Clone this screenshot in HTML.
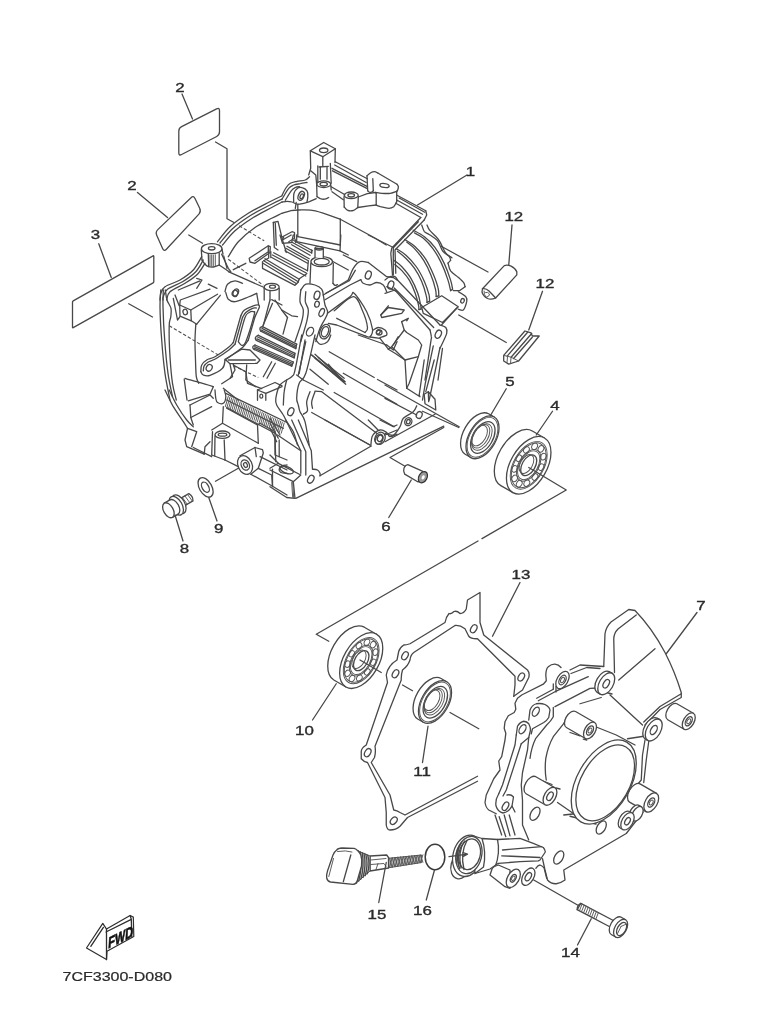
<!DOCTYPE html>
<html><head><meta charset="utf-8"><title>Crankcase parts diagram 7CF3300-D080</title>
<style>
html,body{margin:0;padding:0;background:#fff;}
body{width:762px;height:1024px;overflow:hidden;font-family:"Liberation Sans",sans-serif;}
svg{display:block;position:absolute;left:0;top:0;filter:blur(0.4px);}
.l{fill:none;stroke:#484848;stroke-width:1.3;stroke-linecap:round;stroke-linejoin:round;}
.t{fill:none;stroke:#555;stroke-width:0.95;stroke-linecap:round;stroke-linejoin:round;}
.w{fill:#fff;stroke:#484848;stroke-width:1.3;stroke-linecap:round;stroke-linejoin:round;}
.d{fill:none;stroke:#505050;stroke-width:1.1;stroke-dasharray:3.4 2;}
.n{font-family:"Liberation Sans",sans-serif;font-size:13.2px;fill:#2a2a2a;text-anchor:middle;stroke:#2a2a2a;stroke-width:0.35;}
</style></head><body>
<svg width="762" height="1024" viewBox="0 0 762 1024">
<!-- 10_stickers.svg -->
<path class="l" d="M178.8 131.2Q178.8 128.0 181.6 126.6L216.6 108.9Q219.5 107.5 219.5 110.7L219.5 131.8Q219.5 135.0 216.7 136.5L181.6 154.5Q178.8 156.0 178.8 152.8Z"/>
<path class="l" d="M191.0 197.7Q193.5 195.3 195.0 198.5L199.7 208.3Q201.2 211.5 198.9 214.1L166.4 249.2Q164.0 251.8 162.6 248.5L156.7 235.2Q155.3 232.0 157.8 229.6Z"/>
<path class="l" d="M72.5 302.1Q72.5 301.2 73.2 300.9L153.1 255.9Q153.8 255.5 153.8 256.3L153.8 281.7Q153.8 282.5 153.1 282.9L73.2 327.6Q72.5 328.0 72.5 327.2Z"/>

<!-- 20_round.svg -->
<path class="w" d="M494.20 417.04L488.57 413.79A23.40 13.50 -60 0 0 465.17 454.31L470.80 457.56"/>
<ellipse class="w" cx="482.50" cy="437.30" rx="23.40" ry="13.50" transform="rotate(-60 482.50 437.30)" />
<ellipse class="t" cx="482.50" cy="437.30" rx="21.76" ry="12.56" transform="rotate(-60 482.50 437.30)" />
<ellipse class="l" cx="482.80" cy="437.50" rx="17.32" ry="9.99" transform="rotate(-60 482.80 437.50)" />
<ellipse class="t" cx="481.90" cy="437.00" rx="14.51" ry="8.37" transform="rotate(-60 481.90 437.00)" />
<ellipse class="t" cx="480.70" cy="436.30" rx="12.87" ry="7.43" transform="rotate(-60 480.70 436.30)" />
<ellipse class="t" cx="479.50" cy="435.60" rx="11.23" ry="6.48" transform="rotate(-60 479.50 435.60)" />
<path class="w" d="M544.45 438.02L532.33 431.02A31.50 18.18 -60 0 0 500.83 485.58L512.95 492.58"/>
<ellipse class="w" cx="528.70" cy="465.30" rx="31.50" ry="18.18" transform="rotate(-60 528.70 465.30)" />
<ellipse class="t" cx="528.70" cy="465.30" rx="26.14" ry="15.09" transform="rotate(-60 528.70 465.30)" />
<ellipse class="t" cx="528.70" cy="465.30" rx="24.57" ry="14.18" transform="rotate(-60 528.70 465.30)" />
<ellipse class="t" cx="540.95" cy="448.85" rx="3.46" ry="2.68" transform="rotate(-60 540.95 448.85)"/>
<ellipse class="t" cx="543.39" cy="456.57" rx="3.46" ry="2.68" transform="rotate(-60 543.39 456.57)"/>
<ellipse class="t" cx="541.17" cy="467.07" rx="3.46" ry="2.68" transform="rotate(-60 541.17 467.07)"/>
<ellipse class="t" cx="534.99" cy="477.00" rx="3.46" ry="2.68" transform="rotate(-60 534.99 477.00)"/>
<ellipse class="t" cx="526.81" cy="483.22" rx="3.46" ry="2.68" transform="rotate(-60 526.81 483.22)"/>
<ellipse class="t" cx="519.23" cy="483.75" rx="3.46" ry="2.68" transform="rotate(-60 519.23 483.75)"/>
<ellipse class="t" cx="514.66" cy="478.42" rx="3.46" ry="2.68" transform="rotate(-60 514.66 478.42)"/>
<ellipse class="t" cx="514.54" cy="468.93" rx="3.46" ry="2.68" transform="rotate(-60 514.54 468.93)"/>
<ellipse class="t" cx="518.92" cy="458.28" rx="3.46" ry="2.68" transform="rotate(-60 518.92 458.28)"/>
<ellipse class="t" cx="526.41" cy="449.86" rx="3.46" ry="2.68" transform="rotate(-60 526.41 449.86)"/>
<ellipse class="t" cx="534.62" cy="446.35" rx="3.46" ry="2.68" transform="rotate(-60 534.62 446.35)"/>
<ellipse class="t" cx="528.70" cy="465.30" rx="17.33" ry="10.00" transform="rotate(-60 528.70 465.30)" />
<ellipse class="t" cx="528.70" cy="465.30" rx="15.75" ry="9.09" transform="rotate(-60 528.70 465.30)" />
<ellipse class="l" cx="528.70" cy="465.30" rx="11.34" ry="6.54" transform="rotate(-60 528.70 465.30)" />
<ellipse class="t" cx="526.50" cy="464.00" rx="10.40" ry="6.00" transform="rotate(-60 526.50 464.00)" />
<path class="w" d="M376.45 634.19L364.33 627.19A30.50 17.60 -60 0 0 333.83 680.01L345.95 687.01"/>
<ellipse class="w" cx="361.20" cy="660.60" rx="30.50" ry="17.60" transform="rotate(-60 361.20 660.60)" />
<ellipse class="t" cx="361.20" cy="660.60" rx="25.31" ry="14.61" transform="rotate(-60 361.20 660.60)" />
<ellipse class="t" cx="361.20" cy="660.60" rx="23.79" ry="13.73" transform="rotate(-60 361.20 660.60)" />
<ellipse class="t" cx="373.06" cy="644.67" rx="3.35" ry="2.59" transform="rotate(-60 373.06 644.67)"/>
<ellipse class="t" cx="375.43" cy="652.15" rx="3.35" ry="2.59" transform="rotate(-60 375.43 652.15)"/>
<ellipse class="t" cx="373.28" cy="662.31" rx="3.35" ry="2.59" transform="rotate(-60 373.28 662.31)"/>
<ellipse class="t" cx="367.29" cy="671.93" rx="3.35" ry="2.59" transform="rotate(-60 367.29 671.93)"/>
<ellipse class="t" cx="359.37" cy="677.95" rx="3.35" ry="2.59" transform="rotate(-60 359.37 677.95)"/>
<ellipse class="t" cx="352.03" cy="678.47" rx="3.35" ry="2.59" transform="rotate(-60 352.03 678.47)"/>
<ellipse class="t" cx="347.60" cy="673.31" rx="3.35" ry="2.59" transform="rotate(-60 347.60 673.31)"/>
<ellipse class="t" cx="347.49" cy="664.11" rx="3.35" ry="2.59" transform="rotate(-60 347.49 664.11)"/>
<ellipse class="t" cx="351.73" cy="653.81" rx="3.35" ry="2.59" transform="rotate(-60 351.73 653.81)"/>
<ellipse class="t" cx="358.98" cy="645.65" rx="3.35" ry="2.59" transform="rotate(-60 358.98 645.65)"/>
<ellipse class="t" cx="366.93" cy="642.25" rx="3.35" ry="2.59" transform="rotate(-60 366.93 642.25)"/>
<ellipse class="t" cx="361.20" cy="660.60" rx="16.78" ry="9.68" transform="rotate(-60 361.20 660.60)" />
<ellipse class="t" cx="361.20" cy="660.60" rx="15.25" ry="8.80" transform="rotate(-60 361.20 660.60)" />
<ellipse class="l" cx="361.20" cy="660.60" rx="10.98" ry="6.34" transform="rotate(-60 361.20 660.60)" />
<ellipse class="t" cx="359.00" cy="659.30" rx="10.07" ry="5.81" transform="rotate(-60 359.00 659.30)" />
<path class="w" d="M446.70 681.74L441.07 678.49A23.40 13.50 -60 0 0 417.67 719.01L423.30 722.26"/>
<ellipse class="w" cx="435.00" cy="702.00" rx="23.40" ry="13.50" transform="rotate(-60 435.00 702.00)" />
<ellipse class="t" cx="435.00" cy="702.00" rx="21.76" ry="12.56" transform="rotate(-60 435.00 702.00)" />
<ellipse class="l" cx="435.30" cy="702.20" rx="17.32" ry="9.99" transform="rotate(-60 435.30 702.20)" />
<ellipse class="t" cx="434.40" cy="701.70" rx="14.51" ry="8.37" transform="rotate(-60 434.40 701.70)" />
<ellipse class="t" cx="433.20" cy="701.00" rx="12.87" ry="7.43" transform="rotate(-60 433.20 701.00)" />
<ellipse class="t" cx="432.00" cy="700.30" rx="11.23" ry="6.48" transform="rotate(-60 432.00 700.30)" />
<ellipse class="l" cx="205.60" cy="487.40" rx="10.70" ry="6.17" transform="rotate(60 205.60 487.40)" />
<ellipse class="l" cx="205.40" cy="487.20" rx="5.60" ry="3.23" transform="rotate(60 205.40 487.20)" />
<ellipse cx="435" cy="857" rx="9.8" ry="12.8" fill="none" stroke="#3a3a3a" stroke-width="1.5"/>

<!-- 30_gasket.svg -->
<path class="l" d="M513.75 696.25L522.5 690L528.75 677.5Q530 673 527.5 670L483.75 635L480 622.5V592.5L467.5 600L466.25 609Q464 613.5 460 613.5Q457 610.5 454 611.5Q451 614.5 449 613.5Q446 617 445 622.5L410 643.75Q406 645 403.75 645Q399.5 648 398.75 651.25L397 660Q392 663 390 666.25Q386.5 671 386.25 675L387.5 682.5L366.25 745Q361.5 748 361.25 751.25V758.75Q364 762 367.5 762.5L385 797.5L386.25 812.5V825Q387 830 390 830Q396 830 400 826.25L407.5 817.5L477.5 781.25"/>
<path class="l" d="M513.75 696.25L515 685V676.25L477.5 638.75Q471 639 468.75 636.25L465 628.75Q460 625 455 625.5L413.75 652.5Q410.5 655 410 660Q408 666 402.5 670Q401 675 401.25 680L375 746.25Q376 752 374.5 757.5L371.25 762.5L390 795L393.75 810Q397 810.5 400 812.5L405 815L477.5 776.25"/>
<ellipse class="l" cx="405" cy="655.75" rx="2.8" ry="4.4" transform="rotate(30 405 655.75)"/>
<ellipse class="l" cx="395.5" cy="673.75" rx="2.8" ry="4.4" transform="rotate(30 395.5 673.75)"/>
<ellipse class="l" cx="367.7" cy="752.7" rx="2.8" ry="4.4" transform="rotate(30 367.7 752.7)"/>
<ellipse class="l" cx="393.75" cy="820.7" rx="2.8" ry="4.2" transform="rotate(40 393.75 820.7)"/>
<ellipse class="l" cx="473.75" cy="628.75" rx="2.8" ry="4.4" transform="rotate(30 473.75 628.75)"/>
<ellipse class="l" cx="521.25" cy="677" rx="2.8" ry="4.4" transform="rotate(30 521.25 677)"/>

<!-- 40_cover.svg -->
<!-- cover 7: left flange outer -->
<path class="l" d="M561 667.5Q558.5 664.5 555 664.2Q551.5 664 548.3 666.7Q546 668.5 545.8 675L546.3 680.8L543.3 684.2L521.7 695L517.5 698.3L515 703.3L515.8 709.2L514.2 712.5L508.3 715.8L505 721.7L504.2 728.3L505.8 733.3L505 740L501.7 756.7L498.75 761L500 770L493.75 778.75L486.25 795L485 802.5Q486 808 488.75 810L496.25 813.75"/>
<!-- rib from top boss to box -->
<path class="l" d="M570 670L580 665L603.75 666.5"/>
<path class="l" d="M571 673.5L586.7 667.5L600 668.5"/>
<path class="l" d="M536.7 698.3L553.3 689.2"/>
<path class="l" d="M538.3 700.8L555 691.7L588.3 676.7"/>
<path class="l" d="M555 706.7L590 688.3L598 688"/>
<path class="l" d="M553.3 689.2V684M556 692V686.5"/>
<!-- box -->
<path class="l" d="M603.75 666.25L605 633.75Q606 627 611 622L628.75 609.5L635 610.5Q652 628 665 652.5Q675 672 681.25 692.5V697.5L660 709.5L645 725"/>
<path class="l" d="M614.5 672.5L613.75 638.75Q614 633 618 629L636.25 615"/>
<path class="l" d="M681.25 693.75L660 706.5L643.75 722"/>
<path class="l" d="M610 695L642.5 725"/>
<path class="l" d="M618.75 680L655 648.75"/>
<path class="l" d="M597 690L612 694"/>
<!-- flange lobes -->
<path class="l" d="M528.75 720L530 710Q532 705 536.25 703.75Q541 703 545 704.5Q549.5 707 550 710L548.75 717.5Q547 720.5 543.75 722.5L532.5 728.75L531.25 733.75"/>
<path class="l" d="M516.25 735L517.5 726.25Q520 722 523.75 721.25Q527 721.5 528.75 723.75Q530.5 727 530.5 730L528.75 737.5L521.25 743.75"/>
<path class="l" d="M516.25 735L515 745L502.5 785L498.75 793.75"/>
<path class="l" d="M521.25 743.75L506.25 790L503 796"/>
<path class="l" d="M528.75 737.5L527.5 750L522.5 772.5L521.25 785L522.5 800V825L528.75 840"/>
<!-- lower flange lobe around hole 505.5,806 -->
<path class="l" d="M498.75 793.75Q495 800 496 806Q498 812 503 813Q509 812 512 806L513.5 797Q511 794 507 795"/>
<path class="l" d="M512 806L515 812"/>
<!-- housing arcs -->
<path class="l" d="M553.3 707.5L553.3 716.7Q551 721 546.7 725L535.8 738.3Q531.5 747 530 758.3"/>
<path class="l" d="M566.7 716.7Q566 721 563.3 724.2L553.3 736.7Q548 746 545.8 758.3Q544.5 770 546.25 780"/>
<!-- housing top / right -->
<path class="l" d="M597.5 727.5L616.25 735L635 745"/>
<path class="l" d="M627.5 738.75L643.75 736.25"/>
<path class="l" d="M580 703.75L601.25 697.5"/>
<path class="l" d="M645 740L642.5 755L641.25 780L635 787.5"/>
<path class="l" d="M648.75 741.25L646.25 760L643.75 782.5"/>
<!-- housing bottom -->
<path class="l" d="M557.5 802.5L585 821.5L596 824"/>
<path class="l" d="M570 816.25L595 822.5"/>
<path class="l" d="M563.75 815L575 813.75"/>
<!-- plate bottom -->
<path class="l" d="M542.5 858.75L545 870L547.5 880Q551 884 556.25 883.75Q561 883 565 880L563.75 870L626.25 833.5L643 812"/>
<path class="l" d="M570 732.5L580 735.8M583.3 739.2L586.7 740M543 781L552 784.5M556 788L560 789"/>

<!-- 45_cover_bosses.svg -->
<ellipse class="w" cx="562.50" cy="680.00" rx="9.50" ry="5.48" transform="rotate(-60 562.50 680.00)" />
<ellipse class="l" cx="562.50" cy="680.00" rx="5.20" ry="3.00" transform="rotate(-60 562.50 680.00)" />
<ellipse class="t" cx="562.50" cy="680.00" rx="2.86" ry="1.65" transform="rotate(-60 562.50 680.00)" />
<path class="w" d="M612.25 673.36L609.22 671.61A12.00 6.92 -60 0 0 597.22 692.39L600.25 694.14"/>
<ellipse class="w" cx="606.25" cy="683.75" rx="12.00" ry="6.92" transform="rotate(-60 606.25 683.75)" />
<ellipse class="l" cx="606.25" cy="683.75" rx="4.60" ry="2.65" transform="rotate(-60 606.25 683.75)" />
<path class="w" d="M659.75 719.61L657.15 718.11A12.00 6.92 -60 0 0 645.15 738.89L647.75 740.39"/>
<ellipse class="w" cx="653.75" cy="730.00" rx="12.00" ry="6.92" transform="rotate(-60 653.75 730.00)" />
<ellipse class="l" cx="653.75" cy="730.00" rx="5.00" ry="2.88" transform="rotate(-60 653.75 730.00)" />
<path class="w" d="M693.35 713.28L676.90 703.78A9.20 5.31 -60 0 0 667.70 719.72L684.15 729.22"/>
<ellipse class="w" cx="688.75" cy="721.25" rx="9.20" ry="5.31" transform="rotate(-60 688.75 721.25)" />
<ellipse class="l" cx="688.75" cy="721.25" rx="5.00" ry="2.88" transform="rotate(-60 688.75 721.25)" />
<ellipse class="t" cx="688.75" cy="721.25" rx="2.75" ry="1.59" transform="rotate(-60 688.75 721.25)" />
<path class="w" d="M594.60 722.53L575.55 711.53A9.20 5.31 -60 0 0 566.35 727.47L585.40 738.47"/>
<ellipse class="w" cx="590.00" cy="730.50" rx="9.20" ry="5.31" transform="rotate(-60 590.00 730.50)" />
<ellipse class="l" cx="590.00" cy="730.50" rx="5.00" ry="2.88" transform="rotate(-60 590.00 730.50)" />
<ellipse class="t" cx="590.00" cy="730.50" rx="2.75" ry="1.59" transform="rotate(-60 590.00 730.50)" />
<path class="w" d="M656.50 793.41L640.05 783.91A10.50 6.06 -60 0 0 629.55 802.09L646.00 811.59"/>
<ellipse class="w" cx="651.25" cy="802.50" rx="10.50" ry="6.06" transform="rotate(-60 651.25 802.50)" />
<ellipse class="l" cx="651.25" cy="802.50" rx="5.00" ry="2.88" transform="rotate(-60 651.25 802.50)" />
<ellipse class="t" cx="651.25" cy="802.50" rx="2.75" ry="1.59" transform="rotate(-60 651.25 802.50)" />
<path class="w" d="M641.50 806.82L638.90 805.32A8.00 4.62 -60 0 0 630.90 819.18L633.50 820.68"/>
<ellipse class="w" cx="637.50" cy="813.75" rx="8.00" ry="4.62" transform="rotate(-60 637.50 813.75)" />
<path class="w" d="M632.25 813.02L629.65 811.52A9.50 5.48 -60 0 0 620.15 827.98L622.75 829.48"/>
<ellipse class="w" cx="627.50" cy="821.25" rx="9.50" ry="5.48" transform="rotate(-60 627.50 821.25)" />
<ellipse class="l" cx="627.50" cy="821.25" rx="4.00" ry="2.31" transform="rotate(-60 627.50 821.25)" />
<path class="w" d="M554.90 787.76L535.85 776.76A9.80 5.65 -60 0 0 526.05 793.74L545.10 804.74"/>
<ellipse class="w" cx="550.00" cy="796.25" rx="9.80" ry="5.65" transform="rotate(-60 550.00 796.25)" />
<ellipse class="l" cx="550.00" cy="796.25" rx="4.60" ry="2.65" transform="rotate(-60 550.00 796.25)" />
<ellipse class="l" cx="535.80" cy="711.70" rx="5.00" ry="2.88" transform="rotate(-60 535.80 711.70)" />
<ellipse class="l" cx="522.50" cy="729.20" rx="5.00" ry="2.88" transform="rotate(-60 522.50 729.20)" />
<ellipse class="l" cx="505.50" cy="806.25" rx="4.60" ry="2.65" transform="rotate(-60 505.50 806.25)" />
<ellipse class="l" cx="535.00" cy="813.75" rx="7.20" ry="4.15" transform="rotate(-60 535.00 813.75)" />
<ellipse class="l" cx="601.25" cy="827.50" rx="7.20" ry="4.15" transform="rotate(-60 601.25 827.50)" />
<ellipse class="l" cx="558.75" cy="857.50" rx="7.20" ry="4.15" transform="rotate(-60 558.75 857.50)" />
<ellipse class="w" cx="603.75" cy="782.00" rx="46.00" ry="26.54" transform="rotate(-60 603.75 782.00)" />
<ellipse class="l" cx="605.20" cy="782.90" rx="41.50" ry="23.95" transform="rotate(-60 605.20 782.90)" />

<!-- 47_cover_tube.svg -->
<!-- legs from lower lobe to tube -->
<path class="l" d="M495 815L501.7 835M499.2 816.7L505.8 836.7M504.2 815L510 835.8M509.2 815L515 835"/>
<!-- tube body -->
<path class="w" d="M482 838.5L497.5 839.5L520 838.3L533.3 843.3L543.3 847.5Q546 851 545 852.5L540 860L538.3 860.8L520 861.7L498.3 863.3L490 869L475 873.5Z"/>
<path class="l" d="M502.5 850L541.7 846.7M501.7 855.8L540 857.5"/>
<path class="l" d="M497.5 839.5Q500.5 853 495 867.5"/>
<!-- boss G body -->
<path class="w" d="M510 870L498.3 865Q492 867 491.7 870L490 875L505 886.7L510 888.3Z"/>
<!-- opening -->
<ellipse class="w" cx="460.5" cy="866" rx="9.5" ry="13" transform="rotate(15 460.5 866)"/>
<ellipse class="w" cx="467.5" cy="855.8" rx="14.5" ry="21" transform="rotate(14 467.5 855.8)"/>
<path class="w" d="M472 835.5L482 838.5Q486.5 852 483.5 867L475 873.5Z" />
<ellipse class="w" cx="469" cy="855" rx="12.6" ry="19" transform="rotate(14 469 855)"/>
<ellipse class="l" cx="469.6" cy="854.3" rx="10.6" ry="15.6" transform="rotate(14 469.6 854.3)"/>
<path class="l" d="M462 842Q455 852 458.5 866M464.5 841Q457.5 852 461 868M467 840.5Q460 853 464 869.5M460 845Q454 853 456.5 863M459 847Q456.5 856 459.5 868.5"/>
<path class="l" d="M449 856.7L467.5 854.2M463 852.7L467.5 854.2L463.3 856.3"/>
<!-- between bosses / right -->
<path class="l" d="M535.8 868.3Q538 865 540 865Q543 866 544.2 868.3L546.7 878.3"/>

<!-- 48_cover_bossGH.svg -->
<ellipse class="w" cx="528.30" cy="876.70" rx="9.50" ry="5.48" transform="rotate(-60 528.30 876.70)" />
<ellipse class="l" cx="528.30" cy="876.70" rx="4.50" ry="2.60" transform="rotate(-60 528.30 876.70)" />
<ellipse class="w" cx="513.30" cy="878.30" rx="10.00" ry="5.77" transform="rotate(-60 513.30 878.30)" />
<ellipse class="l" cx="513.30" cy="878.30" rx="4.20" ry="2.42" transform="rotate(-60 513.30 878.30)" />
<ellipse class="t" cx="513.30" cy="878.30" rx="2.40" ry="1.38" transform="rotate(-60 513.30 878.30)" />

<!-- 50_bolt14.svg -->
<path class="w" d="M616.2 922.0L580.8 903.4L577.2 909.6L612.6 928.3"/>
<path class="l" d="M580.8 903.4Q576.9 905.4 577.2 909.6"/>
<path class="t" d="M582.1 904.1L579.4 910.8"/>
<path class="t" d="M584.2 905.2L581.4 911.9"/>
<path class="t" d="M586.2 906.2L583.5 912.9"/>
<path class="t" d="M588.2 907.3L585.5 914.0"/>
<path class="t" d="M590.3 908.4L587.6 915.1"/>
<path class="t" d="M592.3 909.4L589.6 916.1"/>
<path class="t" d="M594.3 910.5L591.6 917.2"/>
<path class="t" d="M596.4 911.6L593.7 918.3"/>
<path class="t" d="M598.4 912.7L595.7 919.4"/>
<path class="w" d="M625.60 919.74L621.26 917.24A10.00 5.77 -60 0 0 611.26 934.56L615.60 937.06"/>
<ellipse class="w" cx="620.60" cy="928.40" rx="10.00" ry="5.77" transform="rotate(-60 620.60 928.40)" />
<ellipse class="l" cx="621.60" cy="929.00" rx="7.20" ry="4.15" transform="rotate(-60 621.60 929.00)" />
<path class="t" d="M617.6 933.4L621.1 926.4M621.1 926.4L625.6 924.4"/>

<!-- 52_dipstick.svg -->
<path d="M388.3 858.3L421.7 855L421.7 862.5L388.3 867.8Z" fill="#b5b5b5" stroke="#444" stroke-width="0.9"/>
<path class="t" d="M389.5 858.1L392.1 867.2M392.1 857.9L389.5 867.5"/>
<path class="t" d="M392.3 857.8L394.9 866.8M394.9 857.6L392.3 867.1"/>
<path class="t" d="M395.1 857.5L397.7 866.3M397.7 857.3L395.1 866.6"/>
<path class="t" d="M397.9 857.2L400.5 865.9M400.5 857.0L397.9 866.2"/>
<path class="t" d="M400.7 857.0L403.3 865.4M403.3 856.8L400.7 865.7"/>
<path class="t" d="M403.5 856.7L406.1 865.0M406.1 856.5L403.5 865.3"/>
<path class="t" d="M406.3 856.4L408.9 864.6M408.9 856.2L406.3 864.9"/>
<path class="t" d="M409.1 856.1L411.7 864.1M411.7 855.9L409.1 864.4"/>
<path class="t" d="M411.9 855.9L414.5 863.7M414.5 855.7L411.9 864.0"/>
<path class="t" d="M414.7 855.6L417.3 863.2M417.3 855.4L414.7 863.5"/>
<path class="t" d="M417.5 855.3L420.1 862.8M420.1 855.1L417.5 863.1"/>
<path class="t" d="M420.3 855.0L422.9 862.3M422.9 854.8L420.3 862.6"/>
<path class="w" d="M370 856L386.7 855L388.5 857.5L388.5 868L370 871Z"/>
<path class="t" d="M371 860L386 858.5M371 864.5L384 863.5L386 866.5M378 863.5L376 869.5"/>
<path d="M357 850.5L370 856L370 871L355 884Z" fill="#ddd" stroke="#444" stroke-width="0.9"/>
<path class="l" d="M358.5 851.0Q360.5 867.0 356.5 883.0"/>
<path class="l" d="M360.3 851.8Q362.5 866.5 358.7 881.2"/>
<path class="l" d="M362.2 852.6Q364.5 866.0 360.8 879.3"/>
<path class="l" d="M364.0 853.4Q366.5 865.5 363.0 877.5"/>
<path class="l" d="M365.8 854.2Q368.5 864.9 365.2 875.7"/>
<path class="l" d="M367.7 855.0Q370.5 864.4 367.3 873.8"/>
<path class="w" d="M336.7 850Q338 848.2 342 848L354.2 848.3Q358 849.5 360.8 855Q362.5 860 361.5 866L357.5 880Q356.5 884 353 884.4L330.5 882Q327.5 881.5 326.7 878Q326.3 875 327.5 871L333 855Q334.5 851.5 336.7 850Z"/>
<path class="l" d="M350.8 855L343.3 881.7"/>
<path class="t" d="M333.5 858.5L328.8 876.5M337.5 851.5Q346 850 352 852"/>

<!-- 54_bolt8.svg -->
<path class="w" d="M175.4 501.4L188.8 493.6Q193.1 496.0 193.0 500.9L179.6 508.6"/>
<path class="t" d="M179.7 498.9L184.6 505.7"/>
<path class="t" d="M182.3 497.4L187.2 504.2"/>
<path class="t" d="M184.9 495.9L189.8 502.7"/>
<path class="t" d="M187.5 494.4L192.4 501.2"/>
<ellipse class="w" cx="178.80" cy="504.25" rx="10.30" ry="5.94" transform="rotate(60 178.80 504.25)"/>
<ellipse class="w" cx="176.20" cy="505.75" rx="10.30" ry="5.94" transform="rotate(60 176.20 505.75)"/>
<ellipse class="w" cx="174.04" cy="507.00" rx="8.20" ry="4.73" transform="rotate(60 174.04 507.00)"/>
<path class="w" d="M169.9 499.9L164.3 503.1L172.5 517.4L178.1 514.1Z" style="stroke:none"/>
<path class="l" d="M169.9 499.9L164.3 503.1M172.5 517.4L178.1 514.1"/>
<ellipse class="w" cx="168.41" cy="510.25" rx="8.20" ry="4.73" transform="rotate(60 168.41 510.25)"/>

<!-- 56_pins.svg -->
<!-- pin 12a -->
<path class="w" d="M482.5 288.7L504.3 265.6Q507.5 264.6 511.1 266.2Q515.5 268.5 516.8 271.8L516.8 274.9L495.6 298Q491 300 487.5 298.5Q483 296 482 292Z"/>
<path class="l" d="M482.5 288.7Q486 288 489 291Q492 294 495.6 298"/>
<path class="t" d="M485.5 292.5Q488 291.5 489.5 294Q489.5 296.5 487 297M484 291Q483.5 295 486.5 297.5"/>
<!-- pin 12b -->
<path class="w" d="M503.7 355.4L524.9 331L531.1 332.9L532.3 336L539.2 336L518.6 361L508.7 364.1L503.7 361Z"/>
<path class="l" d="M511.1 357.2L531.7 333.5M513.6 358.5L532.3 337.3M507.2 356.2L527.8 332"/>
<path class="t" d="M503.7 355.4L507.2 356.2L511.1 357.2L513.6 358.5L518.6 361M507.5 357L507 362.5M511 358L510.5 363.5"/>
<!-- pin 6 -->
<path class="w" d="M407.8 464.7L422.8 471.4L418.1 482L404.7 474.1Q403 471 404 468Q405.5 465 407.8 464.7Z"/>
<ellipse cx="422.9" cy="477.2" rx="4.1" ry="6" transform="rotate(-62 422.9 477.2) rotate(90 422.9 477.2)" fill="#999" stroke="#333" stroke-width="1.2"/>
<ellipse cx="423.2" cy="477.4" rx="1.4" ry="2.2" transform="rotate(28 423.2 477.4)" fill="#fff" stroke="none"/>

<!-- 58_fwd.svg -->
<path class="w" style="stroke:#2e2e2e;stroke-width:1.2" d="M86.5 948L102.8 923.4L106.5 929.1L130.1 915.5L133.3 917.1L133.8 936.5L107 951.2L106.5 959.6Z"/>
<path class="l" style="stroke:#2e2e2e" d="M106.5 929.1V959.6M106 932L131.3 919.3L131.8 937.2M131.3 919.3L130.1 915.5M90.8 946.3L103.4 927.4"/>
<text transform="matrix(0.68 -0.34 -0.05 1 108 948.8)" style="font-family:'Liberation Sans',sans-serif;font-size:16px;font-weight:700;fill:#111;stroke:#111;stroke-width:0.7">FWD</text>

<!-- 60_case_a.svg -->
<path class="l" d="M310.3 150.8L323.7 142.5L335.3 148.7L322.8 156.7Z"/>
<ellipse class="l" cx="323.7" cy="150.3" rx="4.2" ry="2.3" transform="rotate(0 323.7 150.3)"/>
<path class="l" d="M310.3 150.8L310.7 168.3L308.7 175.0"/>
<path class="l" d="M322.8 156.7L322.8 165.8"/>
<path class="l" d="M335.3 148.7L335.0 162.5"/>
<path class="l" d="M317.8 165.8L317.8 182.5"/>
<path class="l" d="M330.3 163.3L331.2 183.3"/>
<path class="l" d="M320.3 166.7L320.3 179.2"/>
<path class="l" d="M327.0 166.7L327.0 179.2"/>
<path class="l" d="M319.0 167.0L328.3 166.3"/>
<ellipse class="l" cx="323.7" cy="184.2" rx="7.0" ry="3.3" transform="rotate(0 323.7 184.2)"/>
<ellipse class="l" cx="323.7" cy="184.2" rx="3.7" ry="1.8" transform="rotate(0 323.7 184.2)"/>
<path class="l" d="M316.7 184.7L317.0 196.7"/>
<path class="l" d="M317.0 196.7C317.6 197.0 319.1 198.2 320.3 198.7C321.6 199.1 323.1 199.4 324.5 199.2C325.9 199.0 328.0 197.8 328.7 197.5"/>
<path class="l" d="M330.8 185.0L331.2 190.0"/>
<path class="l" d="M331.2 186.7L345.0 194.7"/>
<path class="l" d="M332.0 191.7L343.3 199.7"/>
<path class="l" d="M310.7 170.8L315.8 175.0L316.7 184.7"/>
<ellipse class="l" cx="351.2" cy="195.3" rx="7.0" ry="3.3" transform="rotate(0 351.2 195.3)"/>
<ellipse class="l" cx="351.2" cy="195.3" rx="3.3" ry="1.7" transform="rotate(0 351.2 195.3)"/>
<path class="l" d="M344.0 196.7L344.2 207.0"/>
<path class="l" d="M358.3 196.3L357.8 207.5"/>
<path class="l" d="M344.2 207.0C344.8 207.6 346.2 209.8 347.8 210.3C349.4 210.9 352.0 210.8 353.7 210.3C355.3 209.9 357.1 208.0 357.8 207.5"/>
<path class="l" d="M358.3 197.0L367.3 193.7L375.3 192.5"/>
<path class="l" d="M357.8 207.5L368.7 205.8L376.2 205.0"/>
<path class="l" d="M367.0 175.8C367.6 175.4 369.1 173.7 370.3 173.0C371.6 172.3 373.2 171.7 374.5 171.7C375.8 171.7 377.3 172.8 377.8 173.0"/>
<path class="l" d="M377.8 173.0L397.0 184.2"/>
<path class="l" d="M397.0 184.2C397.2 184.6 398.2 185.8 398.3 186.7C398.5 187.6 398.1 188.9 397.8 189.7C397.6 190.4 396.9 191.1 396.7 191.3"/>
<path class="l" d="M396.7 191.3C395.6 191.7 392.8 193.0 390.3 193.3C387.9 193.7 384.5 193.5 382.0 193.3C379.5 193.2 376.4 192.6 375.3 192.5"/>
<path class="l" d="M367.0 175.8L367.7 190.8"/>
<path class="l" d="M372.8 178.7L373.3 190.8"/>
<path class="l" d="M367.7 190.8C368.1 191.1 369.4 192.5 370.3 192.5C371.3 192.5 372.8 191.1 373.3 190.8C373.8 190.6 373.3 190.8 373.3 190.8"/>
<ellipse class="l" cx="384.5" cy="185.5" rx="4.7" ry="2.0" transform="rotate(8 384.5 185.5)"/>
<path class="l" d="M396.7 191.3L396.7 201.7"/>
<path class="l" d="M396.7 201.7C396.2 202.5 395.0 205.6 393.7 206.7C392.3 207.8 390.9 208.3 388.7 208.3C386.4 208.3 382.4 207.2 380.3 206.7C378.2 206.1 376.9 205.3 376.2 205.0"/>
<path class="l" d="M376.2 193.3L376.2 205.0"/>
<path class="l" d="M335.3 161.7L367.3 178.7"/>
<path class="l" d="M334.7 165.0L366.2 182.5"/>
<path class="l" d="M332.0 168.3L367.0 186.3"/>
<path class="l" d="M332.5 170.8L367.3 188.7"/>
<path class="l" d="M282.0 195.3C282.7 194.0 284.8 189.5 286.2 187.5C287.6 185.5 288.5 184.4 290.3 183.3C292.1 182.3 294.5 181.9 297.0 181.3C299.5 180.8 303.2 180.8 305.3 180.0C307.4 179.2 308.8 177.2 309.5 176.7"/>
<path class="l" d="M282.0 199.2C283.1 197.4 286.7 190.7 288.7 188.3C290.6 186.0 291.7 185.8 293.7 185.0C295.6 184.2 298.1 184.1 300.3 183.7C302.6 183.2 305.9 182.7 307.0 182.5"/>
<path class="l" d="M285.3 200.3C286.3 198.8 289.5 193.0 291.2 190.8C292.8 188.7 293.9 188.2 295.3 187.5C296.7 186.8 298.8 186.8 299.5 186.7"/>
<path class="l" d="M293.7 202.0C293.7 200.6 293.3 195.7 294.0 193.3C294.7 191.0 296.5 188.9 297.8 188.0C299.2 187.1 300.5 187.2 302.0 187.7C303.5 188.1 306.0 189.3 307.0 190.8C308.0 192.3 307.8 194.8 307.8 196.7C307.8 198.5 307.1 201.1 307.0 202.0"/>
<ellipse class="l" cx="301.2" cy="195.8" rx="2.8" ry="4.7" transform="rotate(25 301.2 195.8)"/>
<ellipse class="l" cx="301.7" cy="196.3" rx="1.5" ry="2.5" transform="rotate(25 301.7 196.3)"/>
<path class="l" d="M282.0 213.3C283.4 212.9 287.6 211.4 290.3 210.8C293.1 210.3 294.5 210.0 298.7 210.0C302.8 210.0 308.4 209.3 315.3 210.8C322.3 212.4 336.2 217.8 340.3 219.2"/>
<path class="l" d="M340.3 219.2L375.3 238.3L386.2 245.0"/>
<path class="l" d="M282.0 202.0C282.8 201.9 285.3 201.3 287.0 201.3C288.7 201.3 290.3 201.5 292.0 202.0C293.7 202.5 295.1 203.9 297.0 204.2C298.9 204.4 301.6 203.7 303.7 203.3C305.8 202.9 307.4 202.4 309.5 201.7C311.6 200.9 315.1 199.2 316.2 198.7"/>
<path class="l" d="M297.8 205.0L297.8 236.7"/>
<path class="l" d="M340.3 219.2L340.3 245.0"/>
<path class="l" d="M296.2 202.5L295.3 208.3"/>
<path class="l" d="M282.0 237.0L292.0 231.7L294.5 232.5L294.5 238.3L288.7 241.7"/>
<path class="l" d="M282.0 240.3L291.2 235.0"/>
<path class="l" d="M297.8 236.7L340.3 245.0"/>

<!-- 61_case_b.svg -->
<path class="l" d="M217.5 241.7C219.6 239.2 224.9 231.4 230.0 226.7C235.1 221.9 241.9 217.4 248.3 213.3C254.7 209.3 262.7 205.4 268.3 202.5C273.9 199.6 279.7 196.9 282.0 195.8"/>
<path class="l" d="M220.0 243.0C222.1 240.6 227.4 233.3 232.5 228.7C237.6 224.1 244.6 219.3 250.8 215.3C257.1 211.4 264.8 207.7 270.0 205.0C275.2 202.3 280.0 200.1 282.0 199.2"/>
<path class="l" d="M222.5 245.0C224.6 242.6 229.9 235.4 235.0 230.8C240.1 226.2 247.2 221.4 253.3 217.5C259.4 213.6 266.9 210.1 271.7 207.5C276.4 204.9 280.3 202.9 282.0 202.0"/>
<path class="l" d="M228.3 256.7C230.0 254.2 233.9 246.5 238.3 241.7C242.8 236.8 249.4 231.4 255.0 227.5C260.6 223.6 267.2 220.7 271.7 218.3C276.2 216.0 280.3 214.2 282.0 213.3"/>
<ellipse class="w" cx="211.7" cy="248.7" rx="10.3" ry="5.0" transform="rotate(0 211.7 248.7)"/>
<ellipse class="l" cx="211.7" cy="248.3" rx="3.3" ry="1.7" transform="rotate(0 211.7 248.3)"/>
<path class="l" d="M201.3 250.0L202.0 260.0"/>
<path class="l" d="M208.3 253.8L208.7 266.7"/>
<path class="l" d="M219.2 253.0L219.2 265.0"/>
<path class="l" d="M222.0 249.2L223.0 254.2"/>
<path class="l" d="M202.0 260.0C202.5 260.7 203.9 263.1 205.0 264.2C206.1 265.3 207.3 266.2 208.7 266.7C210.1 267.1 211.6 267.3 213.3 267.0C215.1 266.7 218.2 265.3 219.2 265.0"/>
<path class="t" d="M210.0 255.0L210.0 265.8"/>
<path class="t" d="M211.7 255.0L211.7 266.3"/>
<path class="t" d="M213.3 255.0L213.3 266.3"/>
<path class="t" d="M215.3 254.7L215.3 266.0"/>
<path class="l" d="M201.7 256.7C200.3 258.9 196.9 266.1 193.3 270.0C189.7 273.9 184.7 277.2 180.0 280.0C175.3 282.8 168.2 284.4 165.0 286.7C161.8 288.9 161.7 291.1 160.8 293.3C160.0 295.6 160.1 298.9 160.0 300.0"/>
<path class="l" d="M203.3 260.0C202.1 261.9 199.3 268.1 195.8 271.7C192.4 275.3 187.2 278.8 182.5 281.7C177.8 284.6 170.7 286.7 167.5 289.2C164.3 291.7 164.1 294.9 163.3 296.7C162.6 298.5 163.1 299.4 163.0 300.0"/>
<path class="l" d="M205.0 263.3C203.8 265.1 200.8 270.8 197.5 274.2C194.2 277.5 189.6 280.4 185.0 283.3C180.4 286.2 173.1 288.9 170.0 291.7C166.9 294.4 167.2 298.6 166.7 300.0"/>
<path class="l" d="M221.7 254.2L228.3 268.3L230.8 271.7"/>
<path class="l" d="M223.7 255.8L227.0 268.3"/>
<path class="l" d="M219.2 265.0L229.2 271.7"/>
<path class="d" d="M239.2 225.8L264.2 240.8"/>
<path class="d" d="M228.3 259.2L263.3 285.3"/>
<path class="l" d="M228.3 271.7L264.2 287.5"/>
<path class="l" d="M233.3 269.7L245.8 263.3"/>
<path class="l" d="M249.2 258.3L268.3 245.8L270.3 246.7L270.0 252.5L255.0 263.3L250.0 262.0Z"/>
<path class="l" d="M268.3 245.8L268.3 251.7L255.0 260.8"/>
<path class="l" d="M196.7 278.3L202.0 280.0L196.7 288.3"/>
<path class="l" d="M208.3 284.2L217.0 288.3"/>
<path class="l" d="M178.3 290.0L200.0 280.8"/>
<path class="l" d="M225.0 291.7C225.4 290.4 225.8 286.0 227.5 284.2C229.2 282.4 232.5 281.0 235.0 280.8C237.5 280.7 241.2 282.9 242.5 283.3"/>
<ellipse class="l" cx="235.8" cy="292.5" rx="2.5" ry="3.7" transform="rotate(25 235.8 292.5)"/>
<ellipse class="l" cx="271.7" cy="287.0" rx="7.5" ry="3.7" transform="rotate(0 271.7 287.0)"/>
<ellipse class="l" cx="272.5" cy="286.7" rx="3.0" ry="1.5" transform="rotate(0 272.5 286.7)"/>
<path class="l" d="M264.2 288.3L264.2 300.0"/>
<path class="l" d="M279.2 288.3L279.2 300.0"/>
<path class="l" d="M270.0 290.8L270.0 300.0"/>

<!-- 62_case_c.svg -->
<path class="l" d="M160.8 290.0C160.7 292.8 159.9 298.3 160.0 306.7C160.1 315.0 160.8 328.9 161.7 340.0C162.5 351.1 163.6 363.3 165.0 373.3C166.4 383.3 169.2 395.6 170.0 400.0"/>
<path class="l" d="M163.3 290.0C163.3 292.8 162.8 298.3 163.0 306.7C163.2 315.0 163.8 328.9 164.7 340.0C165.5 351.1 166.7 363.9 168.0 373.3C169.3 382.8 171.8 392.8 172.5 396.7"/>
<path class="l" d="M165.3 290.0C165.6 291.7 166.1 296.9 167.0 300.0C167.9 303.1 170.4 305.6 171.0 308.3C171.6 311.1 171.1 313.8 170.8 316.7C170.5 319.6 169.3 319.2 169.2 325.8C169.0 332.5 169.4 347.1 170.0 356.7C170.6 366.2 171.4 376.1 172.5 383.3C173.6 390.6 175.7 397.2 176.3 400.0"/>
<path class="l" d="M179.7 305.0L190.8 310.0L191.3 320.8L180.0 316.2Z"/>
<ellipse class="l" cx="185.2" cy="312.0" rx="2.2" ry="2.8" transform="rotate(-15 185.2 312.0)"/>
<path class="l" d="M179.7 305.0L180.3 300.0L210.0 289.2"/>
<path class="l" d="M190.8 310.0L217.5 294.2"/>
<path class="l" d="M196.7 324.2L220.3 295.3"/>
<path class="l" d="M191.3 320.8L196.7 324.2"/>
<path class="l" d="M175.0 295.0L179.2 305.8"/>
<path class="l" d="M173.3 298.3L177.5 320.0L180.0 316.7"/>
<path class="l" d="M195.8 324.2C195.7 326.8 195.1 334.0 195.0 340.0C194.9 346.0 195.3 353.9 195.5 360.0C195.7 366.1 195.8 372.8 196.3 376.7C196.9 380.6 198.3 382.2 198.7 383.3"/>
<path class="d" d="M169.2 325.8L218.3 355.0"/>
<path class="d" d="M233.3 365.8L258.3 377.5"/>
<path class="l" d="M200.8 371.7C201.0 370.6 200.7 366.9 201.7 365.0C202.6 363.1 204.4 361.4 206.7 360.0C208.9 358.6 211.4 358.8 215.0 356.7C218.6 354.6 225.3 349.9 228.3 347.5C231.4 345.1 232.5 343.3 233.3 342.5"/>
<path class="l" d="M233.3 342.5L240.8 315.8"/>
<path class="l" d="M240.8 315.8C241.4 314.9 242.1 312.0 244.2 310.3C246.3 308.7 250.9 306.7 253.3 305.8C255.7 304.9 257.7 304.7 258.7 305.0C259.6 305.3 259.8 305.6 259.2 307.5C258.6 309.4 255.7 315.1 255.0 316.7"/>
<path class="l" d="M255.0 316.7L248.3 340.0"/>
<path class="l" d="M248.3 340.0C247.5 341.1 245.8 344.3 243.3 346.7C240.8 349.0 236.4 351.9 233.3 354.2C230.3 356.4 226.4 359.0 225.0 360.0"/>
<path class="l" d="M225.0 360.0C224.6 361.4 225.0 365.8 222.5 368.3C220.0 370.9 213.2 374.2 210.0 375.3C206.8 376.4 204.9 375.6 203.3 375.0C201.8 374.4 201.2 372.2 200.8 371.7"/>
<path class="l" d="M203.3 370.8C203.5 370.0 203.3 367.3 204.2 365.8C205.0 364.4 206.4 363.2 208.3 362.0C210.3 360.8 212.4 360.7 215.8 358.7C219.3 356.6 226.0 352.1 229.2 349.7C232.4 347.2 234.0 345.1 235.0 344.2"/>
<path class="l" d="M235.0 344.2L242.5 317.5"/>
<path class="l" d="M242.5 317.5C243.1 316.7 244.2 314.0 245.8 312.5C247.5 311.0 250.8 309.1 252.5 308.3C254.2 307.6 255.7 308.1 256.3 308.0"/>
<path class="l" d="M238.3 341.7C239.4 337.6 243.2 322.4 245.0 317.5C246.8 312.6 247.8 313.5 249.2 312.5C250.6 311.5 252.5 311.2 253.3 311.7C254.2 312.1 255.4 310.0 254.2 315.0C252.9 320.0 247.9 336.6 245.8 341.7C243.7 346.7 242.9 345.3 241.7 345.3C240.4 345.3 238.9 342.3 238.3 341.7"/>
<ellipse class="l" cx="209.2" cy="367.8" rx="2.8" ry="3.5" transform="rotate(30 209.2 367.8)"/>
<path class="l" d="M225.0 359.2L241.7 349.2L250.0 350.0L260.0 360.0L257.0 363.3L230.0 363.7Z"/>
<path class="l" d="M228.3 360.0L255.3 360.0"/>
<ellipse class="l" cx="235.0" cy="293.3" rx="2.8" ry="3.2" transform="rotate(20 235.0 293.3)"/>
<path class="l" d="M225.8 292.5C226.2 293.6 226.8 297.6 228.3 299.2C229.9 300.7 231.7 302.0 235.0 301.7C238.3 301.3 244.7 298.4 248.3 297.0C251.9 295.6 255.3 293.9 256.7 293.3"/>
<path class="l" d="M256.7 293.3L258.7 305.0"/>
<path class="l" d="M270.0 300.0L263.3 325.3"/>
<path class="l" d="M271.7 299.7L282.0 305.0"/>
<path class="l" d="M185.0 378.3C186.9 378.9 191.9 380.3 196.7 381.7C201.4 383.1 210.6 385.8 213.3 386.7"/>
<path class="l" d="M213.3 386.7L210.0 394.2L188.3 400.8"/>
<path class="l" d="M184.2 379.2L187.0 400.0"/>
<path class="l" d="M230.0 364.2L232.5 376.7L221.7 383.7"/>
<path class="l" d="M233.3 365.0L245.8 371.7L247.5 383.3L261.7 388.7"/>
<path class="l" d="M257.5 390.0L265.8 393.3L265.8 400.3"/>
<path class="l" d="M257.5 390.0L257.5 400.3"/>
<ellipse class="l" cx="261.3" cy="396.2" rx="1.5" ry="2.0" transform="rotate(0 261.3 396.2)"/>
<path class="l" d="M257.5 390.0L275.0 382.5L282.0 385.8"/>
<path class="l" d="M265.8 393.3L282.0 386.7"/>
<path class="l" d="M271.7 361.7L263.3 376.7"/>
<path class="l" d="M275.3 363.3L267.0 378.3"/>
<path class="l" d="M223.3 388.3L238.3 400.3"/>

<!-- 63_case_d.svg -->
<ellipse class="w" cx="321.7" cy="261.7" rx="10.8" ry="5.0" transform="rotate(0 321.7 261.7)"/>
<ellipse class="l" cx="321.7" cy="261.7" rx="7.5" ry="3.3" transform="rotate(0 321.7 261.7)"/>
<path class="w" d="M315.0 257.5L315.0 248.7L323.3 248.7L323.3 258.0"/>
<ellipse class="l" cx="319.2" cy="248.3" rx="4.2" ry="1.7" transform="rotate(0 319.2 248.3)"/>
<path class="l" d="M310.8 263.3L310.0 283.3"/>
<path class="l" d="M333.3 263.3L333.0 283.3"/>
<path class="l" d="M333.0 283.3C333.3 283.7 334.2 285.1 335.0 285.3C335.8 285.6 337.1 284.8 337.5 284.7"/>
<path class="l" d="M296.7 235.0L296.7 241.7L340.0 250.8L340.8 235.0"/>
<path class="l" d="M280.0 235.0L282.5 243.3L291.7 242.5L293.3 235.0"/>
<path class="l" d="M300.8 290.0C301.7 289.0 303.5 285.0 305.8 284.2C308.2 283.3 312.4 284.2 315.0 285.0C317.6 285.8 320.3 287.5 321.7 289.2C323.1 290.8 323.1 294.0 323.3 295.0"/>
<path class="l" d="M323.3 295.0L348.3 280.0"/>
<path class="l" d="M348.3 280.0C349.2 278.1 351.4 271.4 353.3 268.3C355.3 265.3 357.5 262.6 360.0 261.7C362.5 260.7 366.9 262.4 368.3 262.5"/>
<path class="l" d="M368.3 262.5L386.7 276.7L393.3 277.5L397.0 280.0"/>
<path class="l" d="M325.0 299.7L350.0 285.0L360.8 279.7"/>
<path class="l" d="M325.8 293.3L349.2 280.8L355.3 270.3"/>
<ellipse class="l" cx="317.0" cy="295.3" rx="2.8" ry="4.2" transform="rotate(15 317.0 295.3)"/>
<ellipse class="l" cx="317.0" cy="304.2" rx="2.3" ry="3.0" transform="rotate(15 317.0 304.2)"/>
<ellipse class="l" cx="321.7" cy="312.5" rx="2.3" ry="4.2" transform="rotate(25 321.7 312.5)"/>
<ellipse class="l" cx="310.0" cy="331.7" rx="3.2" ry="4.7" transform="rotate(30 310.0 331.7)"/>
<path class="l" d="M300.8 290.0C300.7 291.9 299.6 298.3 300.0 301.7C300.4 305.0 303.1 306.7 303.3 310.0C303.6 313.3 303.1 316.4 301.7 321.7C300.3 326.9 296.1 338.3 295.0 341.7"/>
<path class="l" d="M323.3 295.0C323.6 296.7 324.3 301.9 325.0 305.0C325.7 308.1 328.3 309.4 327.5 313.3C326.7 317.2 321.9 323.6 320.0 328.3C318.1 333.1 316.5 339.4 315.8 341.7"/>
<path class="l" d="M305.8 291.7C305.8 293.3 304.9 298.6 305.3 301.7C305.8 304.7 308.1 306.7 308.3 310.0C308.6 313.3 307.9 316.4 306.7 321.7C305.4 326.9 301.8 338.3 300.8 341.7"/>
<path class="l" d="M327.5 313.3C331.2 310.6 345.6 300.0 350.0 296.7C354.4 293.3 351.4 290.8 354.2 293.3C356.9 295.8 363.6 305.7 366.7 311.7C369.7 317.6 371.9 325.0 372.5 329.2C373.1 333.3 371.2 335.6 370.0 336.7C368.8 337.8 365.8 336.0 365.0 335.8"/>
<path class="l" d="M365.0 335.8L336.7 325.0L328.3 323.3"/>
<path class="l" d="M334.2 310.8C337.4 308.5 348.6 296.7 353.3 296.7C358.1 296.7 360.1 305.7 362.5 310.8C364.9 316.0 367.1 323.9 367.5 327.5C367.9 331.1 365.4 331.7 365.0 332.5"/>
<path class="l" d="M365.0 332.5L336.7 318.3"/>
<ellipse class="l" cx="368.3" cy="275.0" rx="2.8" ry="4.2" transform="rotate(20 368.3 275.0)"/>
<path class="l" d="M360.8 279.7C361.2 280.3 361.8 282.4 363.3 283.3C364.9 284.2 367.8 285.1 370.0 285.0C372.2 284.9 374.4 282.5 376.7 282.5C378.9 282.5 381.7 283.5 383.3 285.0C385.0 286.5 386.1 290.6 386.7 291.7"/>
<path class="l" d="M368.3 235.0L393.3 247.5L393.3 275.0"/>
<path class="l" d="M397.0 243.3L393.3 247.5"/>
<path class="l" d="M343.3 255.0L356.7 261.7"/>
<path class="l" d="M333.3 261.7L348.3 270.0"/>
<path class="l" d="M340.0 250.8L348.3 255.0"/>
<ellipse class="l" cx="325.0" cy="331.7" rx="5.0" ry="7.5" transform="rotate(20 325.0 331.7)"/>
<ellipse class="l" cx="325.0" cy="331.7" rx="3.3" ry="5.3" transform="rotate(20 325.0 331.7)"/>
<ellipse class="l" cx="378.3" cy="332.0" rx="1.7" ry="2.3" transform="rotate(30 378.3 332.0)"/>
<path class="l" d="M386.7 286.7L397.0 291.7"/>

<!-- 64_case_e.svg -->
<path class="l" d="M397.0 195.2L425.8 210.8"/>
<path class="l" d="M396.7 200.0L422.5 214.2"/>
<path class="l" d="M395.8 203.3L420.8 217.5"/>
<path class="l" d="M399.2 198.0L424.7 212.2"/>
<path class="l" d="M425.8 210.8L426.7 215.0L424.2 220.0"/>
<path class="l" d="M420.8 217.5L391.7 248.3L390.8 253.3L392.5 275.0"/>
<path class="l" d="M424.2 220.0L395.0 250.0L395.8 273.3"/>
<path class="l" d="M418.3 221.7L394.2 246.7"/>

<!-- 65_case_f.svg -->
<path class="l" d="M421.7 307.5L441.7 295.8L458.3 306.7L442.5 322.5L423.3 313.3Z"/>
<path class="l" d="M456.7 308.0L441.7 324.7"/>
<path class="l" d="M458.3 291.7C459.6 292.5 464.4 295.0 465.8 296.7C467.2 298.3 467.1 299.4 466.7 301.7C466.2 303.9 464.7 308.8 463.3 310.0C461.9 311.2 459.2 309.3 458.3 309.2"/>
<ellipse class="l" cx="462.5" cy="300.8" rx="1.7" ry="2.3" transform="rotate(20 462.5 300.8)"/>
<path class="l" d="M385.0 280.0C385.8 279.4 388.3 277.2 390.0 276.7C391.7 276.1 393.8 276.1 395.0 276.7C396.2 277.2 397.1 279.4 397.5 280.0"/>
<path class="l" d="M397.5 280.0L440.0 325.0"/>
<path class="l" d="M440.0 325.0C441.0 325.4 444.7 326.1 445.8 327.5C446.9 328.9 447.6 329.9 446.7 333.3C445.7 336.8 441.1 345.8 440.0 348.3"/>
<path class="l" d="M385.0 293.3L395.0 290.0L430.0 330.0"/>
<path class="l" d="M430.0 330.0C430.2 331.1 431.2 334.7 431.3 336.7C431.5 338.6 431.9 334.4 430.8 341.7C429.8 348.9 426.0 373.6 425.0 380.0"/>
<path class="l" d="M394.2 288.0L433.7 327.5"/>
<ellipse class="l" cx="390.8" cy="285.0" rx="2.8" ry="4.2" transform="rotate(20 390.8 285.0)"/>
<ellipse class="l" cx="438.3" cy="334.2" rx="2.8" ry="4.3" transform="rotate(25 438.3 334.2)"/>
<path class="l" d="M442.5 348.3L438.0 380.0"/>

<!-- 66_case_g.svg -->
<path class="l" d="M301.7 335.0C300.6 340.8 296.7 363.1 295.0 370.0C293.3 376.9 294.2 374.2 291.7 376.7C289.2 379.2 282.6 381.4 280.0 385.0C277.4 388.6 276.4 395.0 275.8 398.3C275.3 401.7 275.4 402.2 276.7 405.0C277.9 407.8 281.7 412.2 283.3 415.0C285.0 417.8 285.0 418.9 286.7 421.7C288.3 424.4 291.5 427.8 293.3 431.7C295.1 435.6 296.8 442.8 297.5 445.0"/>
<path class="l" d="M315.0 335.0C313.5 341.4 308.5 365.3 305.8 373.3C303.2 381.4 300.7 379.2 299.2 383.3C297.6 387.5 296.8 394.7 296.7 398.3C296.5 401.9 297.8 402.8 298.3 405.0C298.9 407.2 298.9 408.9 300.0 411.7C301.1 414.4 303.5 416.1 305.0 421.7C306.5 427.2 308.5 441.1 309.2 445.0"/>
<path class="l" d="M305.8 341.7L298.3 375.0"/>
<path class="l" d="M286.7 380.0C286.2 381.9 284.7 387.5 284.2 391.7C283.6 395.8 283.5 402.8 283.3 405.0"/>
<ellipse class="l" cx="290.8" cy="411.7" rx="2.8" ry="4.2" transform="rotate(25 290.8 411.7)"/>
<path class="l" d="M315.0 338.3C315.8 339.3 317.9 343.6 320.0 344.2C322.1 344.7 325.7 343.2 327.5 341.7C329.3 340.1 330.3 336.1 330.8 335.0"/>
<path class="l" d="M329.2 351.7L374.2 377.5"/>
<path class="l" d="M377.5 379.5L397.0 390.0"/>
<path class="l" d="M311.7 355.0L345.8 384.2"/>
<path class="l" d="M315.0 354.2L345.0 381.7"/>
<path class="l" d="M328.3 364.2L343.3 381.7"/>
<path class="l" d="M310.0 369.2L328.3 384.2"/>
<path class="l" d="M334.2 392.5L394.2 426.7"/>
<path class="l" d="M343.3 373.3L397.0 404.2"/>
<path class="l" d="M310.0 391.7C309.4 393.3 307.1 398.5 306.7 401.7C306.2 404.9 308.1 408.8 307.5 410.8C306.9 412.9 304.0 413.6 303.3 414.2"/>
<path class="l" d="M315.0 391.7C314.4 393.3 312.1 398.9 311.7 401.7C311.2 404.4 312.4 407.2 312.5 408.3"/>
<path class="l" d="M315.0 391.2L321.7 391.7L376.7 433.3"/>
<ellipse class="l" cx="380.0" cy="438.3" rx="5.0" ry="6.3" transform="rotate(25 380.0 438.3)"/>
<ellipse class="l" cx="380.0" cy="438.3" rx="2.5" ry="3.3" transform="rotate(25 380.0 438.3)"/>
<path class="l" d="M311.7 412.5L370.0 445.0"/>
<path class="l" d="M303.3 380.0L323.3 390.0"/>
<path class="l" d="M296.7 375.0L303.3 380.0"/>
<path class="l" d="M386.7 345.0L393.3 350.0L397.0 341.7"/>
<path class="l" d="M358.3 335.0L386.7 345.0"/>
<path class="l" d="M385.0 435.0L397.0 430.0"/>
<path class="l" d="M270.0 418.3L280.0 435.0"/>
<path class="l" d="M270.0 423.3L278.3 438.3"/>
<path class="l" d="M270.0 428.3L276.7 441.7"/>

<!-- 67_case_h.svg -->
<path class="l" d="M165.0 390.0C166.4 392.8 170.3 401.4 173.3 406.7C176.4 411.9 181.0 418.1 183.3 421.7C185.7 425.3 186.8 427.2 187.5 428.3"/>
<path class="l" d="M187.5 428.3L185.0 440.0L186.7 446.7L190.8 448.3"/>
<path class="l" d="M169.2 390.0C170.4 392.5 173.8 400.0 176.7 405.0C179.6 410.0 183.9 416.4 186.7 420.0C189.4 423.6 192.2 425.6 193.3 426.7"/>
<path class="l" d="M187.5 428.3L196.7 431.7L191.7 446.7"/>
<path class="l" d="M190.8 448.3L204.2 454.2"/>
<path class="l" d="M204.2 454.2L205.0 446.7L210.0 441.7"/>
<path class="l" d="M225.8 393.3L287.0 422.5"/>
<path class="l" d="M226.7 400.0L283.3 428.3"/>
<path class="l" d="M226.7 407.5L275.0 433.3"/>
<path class="l" d="M190.0 405.0L210.0 395.0L213.3 398.3"/>
<path class="l" d="M190.8 417.5L211.7 406.7"/>
<path class="l" d="M190.0 405.0L190.8 417.5L193.3 425.0"/>
<path class="l" d="M215.0 390.0C215.1 391.4 215.4 396.2 215.8 398.3C216.2 400.4 216.2 401.7 217.5 402.5C218.8 403.3 221.9 404.3 223.3 403.3C224.7 402.4 225.7 398.9 225.8 396.7C226.0 394.4 224.4 391.1 224.2 390.0"/>
<path class="l" d="M223.3 406.7L222.5 423.3L211.7 430.0"/>
<path class="l" d="M222.5 423.3L258.3 443.3"/>
<path class="l" d="M226.7 408.3L257.5 425.0L258.3 443.3"/>
<path class="l" d="M257.5 425.0L260.0 423.3L275.0 431.7"/>
<ellipse class="w" cx="222.5" cy="434.7" rx="7.5" ry="3.7" transform="rotate(0 222.5 434.7)"/>
<ellipse class="l" cx="222.5" cy="434.7" rx="4.3" ry="1.5" transform="rotate(0 222.5 434.7)"/>
<path class="l" d="M212.5 431.7L211.7 455.0"/>
<path class="l" d="M224.2 440.0L225.0 460.0"/>
<path class="l" d="M211.7 455.0L225.0 460.0"/>
<path class="l" d="M215.0 435.8L214.7 455.8"/>
<path class="l" d="M193.3 447.5L211.7 456.7"/>
<path class="w" d="M240.0 455.8L255.0 447.5L262.5 449.7L263.3 453.0L258.3 468.3L250.8 474.2"/>
<ellipse class="w" cx="245.0" cy="465.0" rx="7.0" ry="9.7" transform="rotate(-25 245.0 465.0)"/>
<ellipse class="l" cx="245.3" cy="465.0" rx="4.0" ry="5.3" transform="rotate(-25 245.3 465.0)"/>
<ellipse class="l" cx="245.5" cy="465.0" rx="1.8" ry="2.5" transform="rotate(-25 245.5 465.0)"/>
<path class="l" d="M255.0 447.5L256.3 456.7"/>
<path class="l" d="M225.0 460.0L238.3 466.7"/>
<path class="l" d="M250.8 474.2L271.7 485.8L287.0 495.0"/>
<path class="l" d="M260.0 456.7L287.0 470.0"/>
<path class="l" d="M258.3 468.3L271.7 475.0L272.5 485.8"/>
<path class="l" d="M275.0 431.7L275.0 455.0L287.0 460.0"/>
<path class="l" d="M279.2 440.0L279.2 456.7"/>
<path class="l" d="M287.0 465.0C286.1 465.1 283.0 465.1 281.7 465.8C280.4 466.5 279.3 468.1 279.2 469.2C279.0 470.3 279.5 471.8 280.8 472.5C282.1 473.2 286.0 473.2 287.0 473.3"/>
<path class="t" d="M228.3 396.3L225.3 406.7"/>
<path class="t" d="M230.0 397.0L227.0 407.3"/>
<path class="t" d="M231.7 397.8L228.7 408.2"/>
<path class="t" d="M233.3 398.7L230.3 409.0"/>
<path class="t" d="M235.0 399.5L232.0 409.8"/>
<path class="t" d="M236.7 400.3L233.7 410.7"/>
<path class="t" d="M238.3 401.2L235.3 411.5"/>
<path class="t" d="M240.2 401.8L237.2 412.2"/>
<path class="t" d="M241.8 402.7L238.8 413.0"/>
<path class="t" d="M243.5 403.5L240.5 413.8"/>
<path class="t" d="M245.2 404.3L242.2 414.7"/>
<path class="t" d="M246.8 405.2L243.8 415.5"/>
<path class="t" d="M248.5 406.0L245.5 416.3"/>
<path class="t" d="M250.2 406.8L247.2 417.2"/>
<path class="t" d="M252.0 407.5L249.0 417.8"/>
<path class="t" d="M253.7 408.3L250.7 418.7"/>
<path class="t" d="M255.3 409.2L252.3 419.5"/>
<path class="t" d="M257.0 410.0L254.0 420.3"/>
<path class="t" d="M258.7 410.8L255.7 421.2"/>
<path class="t" d="M260.3 411.7L257.3 422.0"/>
<path class="t" d="M262.2 412.3L259.2 422.7"/>
<path class="t" d="M263.8 413.2L260.8 423.5"/>
<path class="t" d="M265.5 414.0L262.5 424.3"/>
<path class="t" d="M267.2 414.8L264.2 425.2"/>
<path class="t" d="M268.8 415.7L265.8 426.0"/>
<path class="t" d="M270.5 416.5L267.5 426.8"/>
<path class="t" d="M272.2 417.3L269.2 427.7"/>
<path class="t" d="M274.0 418.0L271.0 428.3"/>
<path class="t" d="M275.7 418.8L272.7 429.2"/>
<path class="t" d="M277.3 419.7L274.3 430.0"/>
<path class="t" d="M279.0 420.5L276.0 430.8"/>
<path class="t" d="M280.7 421.3L277.7 431.7"/>
<path class="t" d="M282.3 422.2L279.3 432.5"/>
<path class="t" d="M284.2 423.0L281.2 433.3"/>

<!-- 68_case_i.svg -->
<path class="l" d="M285.8 420.0L300.8 450.8L300.8 473.3"/>
<path class="l" d="M291.7 420.0L305.8 451.7L305.8 475.0"/>
<path class="l" d="M298.3 420.0L311.3 450.8L312.5 469.2"/>
<path class="l" d="M312.5 469.2C313.3 469.3 316.2 469.3 317.5 470.0C318.8 470.7 319.6 472.4 320.0 473.3C320.4 474.3 320.0 475.4 320.0 475.8"/>
<path class="l" d="M320.0 475.8L370.8 446.3"/>
<path class="l" d="M295.8 498.3L443.8 426.2"/>
<ellipse class="l" cx="310.8" cy="479.2" rx="2.8" ry="4.2" transform="rotate(30 310.8 479.2)"/>
<ellipse class="l" cx="379.2" cy="439.2" rx="3.5" ry="5.2" transform="rotate(25 379.2 439.2)"/>
<path class="l" d="M370.8 446.3C371.1 444.6 371.0 438.6 372.5 435.8C374.0 433.1 377.6 430.6 380.0 430.0C382.4 429.4 385.0 431.4 386.7 432.5C388.3 433.6 388.3 436.4 390.0 436.7C391.7 436.9 395.8 434.6 397.0 434.2"/>
<path class="l" d="M325.0 420.0L370.0 445.0"/>
<path class="l" d="M368.3 420.0L378.3 430.3"/>
<path class="l" d="M380.0 420.0L393.3 426.7L397.0 425.0"/>
<path class="l" d="M270.0 468.3L278.3 463.3L300.8 475.0L293.3 481.7L270.0 470.0"/>
<ellipse class="l" cx="286.7" cy="470.0" rx="7.0" ry="3.3" transform="rotate(20 286.7 470.0)"/>
<path class="l" d="M293.3 481.7L295.0 498.3"/>
<path class="l" d="M270.0 486.7L286.7 497.5L295.0 498.3"/>
<path class="l" d="M272.5 469.2L272.5 486.7"/>
<path class="t" d="M291.7 482.5L292.7 497.5"/>
<path class="t" d="M292.7 482.0L293.7 498.0"/>
<path class="l" d="M275.0 436.7L275.8 461.7"/>
<path class="l" d="M270.0 455.0L278.3 463.3"/>
<path class="l" d="M277.5 435.0L300.8 450.8"/>

<!-- 69_case_j.svg -->
<path class="l" d="M424.2 360.0L419.2 395.0"/>
<path class="l" d="M434.2 360.0L425.8 391.7"/>
<path class="l" d="M424.2 394.2L428.3 391.7L435.0 399.2L435.8 410.0L425.0 403.7Z"/>
<path class="l" d="M428.3 391.7L428.7 401.7"/>
<path class="l" d="M385.0 385.0L459.2 426.7"/>
<path class="l" d="M385.0 398.3L416.7 415.0"/>
<path class="l" d="M385.0 433.3C386.4 433.6 390.8 436.1 393.3 435.0C395.8 433.9 398.3 429.4 400.0 426.7C401.7 423.9 401.1 420.8 403.3 418.3C405.6 415.8 411.1 413.8 413.3 411.7C415.6 409.6 416.1 406.8 416.7 405.8"/>
<ellipse class="l" cx="408.3" cy="421.7" rx="3.5" ry="4.0" transform="rotate(25 408.3 421.7)"/>
<ellipse class="l" cx="408.3" cy="421.7" rx="1.8" ry="2.2" transform="rotate(25 408.3 421.7)"/>
<ellipse class="l" cx="419.2" cy="415.0" rx="2.8" ry="3.5" transform="rotate(25 419.2 415.0)"/>
<path class="l" d="M385.0 441.7L435.0 414.2"/>

<!-- 6a_case_k.svg -->
<path class="l" d="M273.3 222.5L278.0 221.3L282.5 240.0L286.3 252.5"/>
<path class="l" d="M273.3 222.5L274.3 247.5L278.0 250.0"/>
<path class="l" d="M275.3 223.3L276.3 245.3"/>
<path class="l" d="M282.5 240.0L283.7 237.0"/>
<path class="l" d="M292.5 242.5L311.7 253.0"/>
<path class="l" d="M293.7 240.5L312.5 250.8"/>
<path class="l" d="M291.7 244.7L310.0 255.3"/>
<path class="l" d="M285.8 248.3L308.3 260.8"/>
<path class="l" d="M287.0 246.3L309.2 258.7"/>
<path class="l" d="M285.0 250.8L307.5 263.3"/>
<path class="l" d="M272.5 255.0L306.7 273.3"/>
<path class="l" d="M273.7 252.8L307.5 270.8"/>
<path class="l" d="M271.7 257.5L305.8 276.0"/>
<path class="l" d="M263.7 260.8L298.3 281.7"/>
<path class="l" d="M265.0 258.7L299.2 279.2"/>
<path class="l" d="M263.0 263.3L296.7 283.7"/>
<path class="l" d="M262.5 261.7L262.5 268.3L295.0 285.3L298.3 282.0"/>
<path class="l" d="M298.3 281.7L299.3 278.7L306.7 273.7"/>
<path class="l" d="M307.5 270.8L308.3 261.2"/>
<path class="l" d="M311.7 253.0L311.7 250.0"/>
<path class="l" d="M263.7 260.8L268.7 258.0L268.7 250.0"/>
<path class="l" d="M270.8 251.7L270.8 257.5"/>
<path class="l" d="M295.0 239.2L295.8 242.5"/>

<!-- 6b_case_l.svg -->
<path class="l" d="M272.5 303.3L262.5 326.7"/>
<path class="l" d="M287.5 317.5L283.0 334.2"/>
<path class="l" d="M275.0 300.0L281.7 310.0L291.7 315.8L297.5 316.7"/>
<path class="l" d="M281.7 310.0L287.5 317.5"/>
<path class="l" d="M262.5 326.7C262.1 326.8 260.8 327.0 260.3 327.5C259.9 328.0 259.9 329.1 260.0 329.7C260.1 330.3 260.7 330.9 260.8 331.2"/>
<path class="l" d="M262.5 326.7L296.7 344.2"/>
<path class="l" d="M260.8 331.2L295.8 348.7"/>
<path class="l" d="M262.0 328.3L296.3 345.8"/>
<path class="l" d="M261.3 330.0L296.0 347.3"/>
<path class="l" d="M258.3 335.3C257.9 335.6 256.5 336.1 256.0 336.7C255.5 337.2 255.3 338.1 255.3 338.7C255.4 339.3 256.2 340.1 256.3 340.3"/>
<path class="l" d="M258.3 335.3L295.0 353.3"/>
<path class="l" d="M256.3 340.3L294.2 357.8"/>
<path class="l" d="M257.7 337.0L294.7 355.0"/>
<path class="l" d="M257.0 338.8L294.3 356.5"/>
<path class="l" d="M255.0 345.0C254.7 345.2 253.3 345.8 253.0 346.3C252.7 346.9 252.8 347.8 253.0 348.3C253.2 348.9 254.0 349.3 254.2 349.5"/>
<path class="l" d="M255.0 345.0L293.3 362.0"/>
<path class="l" d="M254.2 349.5L291.7 366.2"/>
<path class="l" d="M254.7 346.7L292.8 363.5"/>
<path class="l" d="M254.3 348.2L292.3 364.8"/>
<path class="l" d="M296.7 344.2L295.8 348.7"/>
<path class="l" d="M295.0 353.3L294.2 357.8"/>
<path class="l" d="M293.3 362.0L291.7 366.2"/>
<path class="l" d="M233.3 364.2L235.0 370.0L230.0 378.3"/>
<path class="l" d="M246.7 365.0L245.8 380.0L255.8 386.7"/>
<path class="l" d="M305.0 340.0L299.2 373.3"/>
<path class="l" d="M311.7 355.0L345.0 381.7"/>
<path class="l" d="M315.0 358.3L341.7 380.0"/>
<path class="l" d="M318.3 357.5L344.2 378.3"/>

<!-- 6c_case_m.svg -->
<path class="l" d="M380.8 315.0L388.3 307.5L404.2 310.0L401.7 313.3L381.7 317.5Z"/>
<path class="l" d="M388.3 305.8L380.8 315.0"/>
<path class="l" d="M373.3 330.0C374.2 329.6 376.4 327.5 378.3 327.5C380.3 327.5 383.6 328.8 385.0 330.0C386.4 331.2 387.5 333.8 386.7 335.0C385.8 336.2 381.1 337.1 380.0 337.5"/>
<ellipse class="l" cx="379.2" cy="332.5" rx="2.8" ry="2.5" transform="rotate(0 379.2 332.5)"/>
<path class="l" d="M401.7 321.7L408.3 318.3L406.7 320.8"/>
<path class="l" d="M401.7 321.7L404.2 330.0L391.7 346.7L388.3 349.2L380.0 338.3"/>
<path class="l" d="M404.2 330.0L406.7 332.5L418.3 340.0L421.7 345.0L418.3 356.7L405.0 360.0L391.7 346.7"/>
<path class="l" d="M405.0 360.0L406.7 388.3L420.0 396.7L419.2 395.0"/>
<path class="l" d="M418.3 356.7L409.2 383.3L406.7 388.3"/>
<path class="l" d="M388.3 349.2L395.0 353.3L405.0 360.0"/>
<path class="l" d="M398.3 336.7L393.3 345.0"/>
<path class="l" d="M440.0 347.5L431.3 390.0L429.2 400.0"/>
<path class="l" d="M433.3 345.8L425.3 383.3L422.5 400.0"/>
<path class="l" d="M370.0 337.0L380.0 338.3"/>

<!-- 6d_case_n.svg -->
<path class="l" d="M413.2 230.2C415.1 231.3 420.8 234.0 424.4 236.8C428.0 239.7 431.6 242.9 434.9 247.3C438.1 251.7 441.4 257.6 444.1 263.1C446.7 268.5 449.2 275.7 450.6 280.1C452.0 284.5 452.3 287.8 452.6 289.3"/>
<path class="l" d="M414.5 232.9C415.9 233.7 420.0 235.5 423.1 238.1C426.1 240.7 429.8 244.5 432.9 248.6C436.0 252.8 438.9 257.8 441.4 263.1C443.9 268.3 446.5 275.5 448.0 280.1C449.5 284.7 450.2 288.9 450.6 290.6"/>
<path class="l" d="M404.7 239.4C406.4 240.6 411.7 243.4 415.2 246.7C418.7 249.9 422.6 254.4 425.7 259.1C428.7 263.8 431.5 270.1 433.6 274.9C435.6 279.7 437.3 284.5 438.1 288.0C439.0 291.5 438.7 294.6 438.8 295.9"/>
<path class="l" d="M406.7 242.1C408.0 243.2 411.7 245.6 414.5 248.6C417.4 251.7 421.0 256.1 423.7 260.4C426.4 264.8 429.0 270.1 430.9 274.9C432.9 279.7 434.7 285.7 435.5 289.3C436.4 292.9 436.1 295.3 436.2 296.5"/>
<path class="l" d="M396.2 248.6C397.8 249.7 402.6 252.1 406.0 255.2C409.4 258.2 413.4 262.6 416.5 267.0C419.6 271.4 422.3 276.8 424.4 281.4C426.4 286.0 428.1 291.3 429.0 294.6C429.8 297.8 429.5 300.0 429.6 301.1"/>
<path class="l" d="M397.5 251.2C398.9 252.4 403.2 255.6 406.0 258.5C408.8 261.3 411.9 264.5 414.5 268.3C417.2 272.1 419.8 276.8 421.7 281.4C423.7 286.0 425.5 292.4 426.3 295.9C427.2 299.4 426.9 301.3 427.0 302.4"/>
<path class="l" d="M394.2 260.4C395.5 261.5 399.2 263.9 402.1 267.0C404.9 270.1 408.6 274.4 411.2 278.8C413.9 283.2 416.3 289.1 417.8 293.2C419.3 297.4 419.9 301.1 420.4 303.7C421.0 306.4 421.0 308.1 421.1 309.0"/>
<path class="l" d="M394.8 264.4C396.0 265.5 399.7 268.3 402.1 270.9C404.5 273.6 407.1 276.4 409.3 280.1C411.5 283.8 413.7 289.1 415.2 293.2C416.7 297.4 417.9 302.3 418.5 305.1C419.1 307.8 418.8 308.9 418.9 309.6"/>
<path class="l" d="M421.7 225.0C422.2 226.1 423.1 229.9 424.4 231.6C425.7 233.2 427.4 233.3 429.6 234.8C431.8 236.4 435.3 238.0 437.5 240.7C439.7 243.5 440.8 248.6 442.7 251.2C444.7 253.9 448.0 255.0 449.3 256.5C450.6 258.0 450.4 259.8 450.6 260.4"/>
<path class="l" d="M450.6 260.4L448.0 263.1"/>
<path class="l" d="M448.0 263.1C448.4 264.4 448.9 268.5 450.6 270.9C452.4 273.3 456.3 275.5 458.5 277.5C460.7 279.5 462.6 281.2 463.7 282.7C464.8 284.3 464.8 286.0 465.1 286.7"/>
<path class="l" d="M465.1 286.7L459.8 290.6L453.2 290.6"/>
<path class="l" d="M427.0 225.0C427.4 225.9 428.1 228.3 429.6 230.2C431.2 232.2 434.4 234.8 436.2 236.8C437.9 238.8 438.6 239.4 440.1 242.1C441.6 244.7 443.4 249.9 445.4 252.6C447.3 255.2 450.8 256.9 451.9 257.8"/>
<path class="l" d="M452.6 289.3L450.6 290.6"/>
<path class="l" d="M438.8 295.9L436.2 296.5"/>
<path class="l" d="M429.6 301.1L427.0 302.4"/>
<path class="l" d="M421.1 309.0L418.9 309.6"/>

<!-- 80_leaders.svg -->
<path class="l" d="M182 94L192.5 119 M215.5 142L227 148.75V218.75L234 222.5 M137.5 192.5L167.5 217.5 M98.75 243.75L111.25 277.5 M128.75 303.75L152.5 317 M467 175L417.5 205 M512 225L508.75 265 M441.25 246.25L488 272 M542.5 291.25L528.75 330 M458.75 315L506.25 342.5 M506.25 388.75L490 416.25 M552.5 411.25L536.25 435 M528.75 467.5L566.25 490L482 538.6M478 541L316.25 634.25L328.75 641.25 M422.5 411.25L458.75 427.5 M388.75 517.5L411.25 480 M443.75 427.5L390 457.5L405 466.25 M175 515L183 541 M208.75 497.5L217 521 M215.5 481.25L238.75 468 M312.5 720L336.25 683.75 M360 660L381.25 672.5M402.5 685L412.5 690.75 M428 726.25L422.5 762.5 M450 712.5L478.75 728.75 M520 582.5L492.5 636.25 M697 612.5L666.25 653.75 M591.25 918.75L577.5 945 M533.75 880L577.5 905 M378.75 902.5L386.25 862.5 M426.25 900L434.5 870"/>
<path class="l" d="M188.75 235L202.5 243.25"/>

<!-- 90_labels.svg -->
<text class="n" transform="translate(180.0 91.7) scale(1.28 1)">2</text>
<text class="n" transform="translate(132.0 190.2) scale(1.28 1)">2</text>
<text class="n" transform="translate(95.5 239.2) scale(1.28 1)">3</text>
<text class="n" transform="translate(470.5 175.7) scale(1.28 1)">1</text>
<text class="n" transform="translate(513.8 220.7) scale(1.28 1)">12</text>
<text class="n" transform="translate(545.0 288.4) scale(1.28 1)">12</text>
<text class="n" transform="translate(510.0 385.7) scale(1.28 1)">5</text>
<text class="n" transform="translate(555.0 409.7) scale(1.28 1)">4</text>
<text class="n" transform="translate(521.0 578.7) scale(1.28 1)">13</text>
<text class="n" transform="translate(386.0 530.7) scale(1.28 1)">6</text>
<text class="n" transform="translate(184.5 552.7) scale(1.28 1)">8</text>
<text class="n" transform="translate(218.8 532.7) scale(1.28 1)">9</text>
<text class="n" transform="translate(701.0 609.7) scale(1.28 1)">7</text>
<text class="n" transform="translate(304.5 734.7) scale(1.28 1)">10</text>
<text class="n" transform="translate(422.0 775.7) scale(1.28 1)">11</text>
<text class="n" transform="translate(570.5 956.7) scale(1.28 1)">14</text>
<text class="n" transform="translate(377.0 918.5) scale(1.28 1)">15</text>
<text class="n" transform="translate(422.5 914.7) scale(1.28 1)">16</text>
<text transform="translate(62.5 980.5) scale(1.335 1)" style="font-family:'Liberation Sans',sans-serif;font-size:12px;fill:#2a2a2a;stroke:#2a2a2a;stroke-width:0.2">7CF3300-D080</text>

</svg>
</body></html>
